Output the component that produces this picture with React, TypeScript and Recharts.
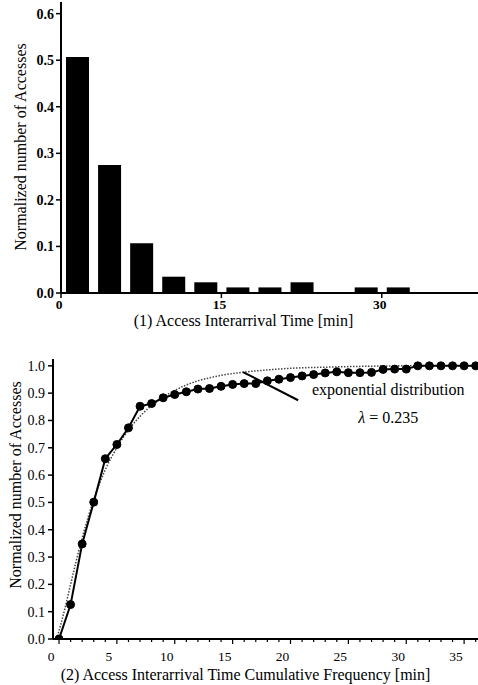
import React from 'react';
import { BarChart, Bar, LineChart, Line, XAxis, YAxis, Label, ReferenceLine, ReferenceDot } from 'recharts';

// (1) histogram of interarrival times, 3-minute bins
const binCenters = [1.5, 4.5, 7.5, 10.5, 13.5, 16.5, 19.5, 22.5, 25.5, 28.5, 31.5];
const binShares = [0.507, 0.275, 0.107, 0.035, 0.023, 0.012, 0.012, 0.023, 0, 0.012, 0.012];
const histXTicks = [0, 15, 30];
const histYTicks = [0, 0.1, 0.2, 0.3, 0.4, 0.5, 0.6];

// (2) cumulative frequency, one point per minute
const cumMinutes = [
  0, 1, 2, 3, 4, 5, 6, 7, 8, 9, 10, 11, 12, 13, 14, 15, 16, 17, 18,
  19, 20, 21, 22, 23, 24, 25, 26, 27, 28, 29, 30, 31, 32, 33, 34, 35, 36
];
const cumShares = [
  0.0, 0.126, 0.348, 0.501, 0.66, 0.712, 0.773, 0.852, 0.862, 0.883, 0.895, 0.905, 0.915,
  0.917, 0.925, 0.932, 0.935, 0.935, 0.945, 0.951, 0.957, 0.963, 0.968, 0.974, 0.978,
  0.975, 0.975, 0.976, 0.987, 0.988, 0.988, 1.0, 1.0, 1.0, 1.0, 1.0, 1.0
];

// fitted exponential (dotted)
const expMinutes = [-0.2, 0.5, 1, 2, 3, 4, 5, 6, 7, 8, 9, 10, 11, 12, 13, 14, 16, 18, 20, 23, 26, 30, 36.2];
const expShares = [0, 0.11, 0.2, 0.37, 0.51, 0.62, 0.7, 0.765, 0.815, 0.855, 0.885, 0.91, 0.93, 0.945, 0.956, 0.965, 0.977, 0.985, 0.991, 0.995, 0.998, 1.0, 1.0];

const cumXTicks = cumMinutes;
const cumYTicks = [0, 0.1, 0.2, 0.3, 0.4, 0.5, 0.6, 0.7, 0.8, 0.9, 1.0];

const histRows = binCenters.map((t, i) => ({ t, share: binShares[i] }));
const cumRows = cumMinutes.map((t, i) => ({ t, share: cumShares[i] }));
const expRows = expMinutes.map((t, i) => ({ t, share: expShares[i] }));

const FONT = '"Liberation Serif", "Times New Roman", serif';

const HistTick = ({ x, y, payload }: any) => (
  <g>
    <line x1={x} y1={y} x2={x} y2={y + 5} stroke="#000" strokeWidth={1.5} />
    <text x={x - 2} y={y + 16} textAnchor="middle" fontSize={13.5} fontWeight="bold" fontFamily={FONT} fill="#000">
      {payload.value}
    </text>
  </g>
);

const CumTick = ({ x, y, payload }: any) => {
  const major = payload.value % 5 === 0;
  return (
    <g>
      <line x1={x} y1={y} x2={x} y2={y + (major ? 5 : 3)} stroke="#000" strokeWidth={1.2} />
      {major && (
        <text x={x - 8} y={y + 22} textAnchor="middle" fontSize={13.5} fontFamily={FONT} fill="#000">
          {payload.value}
        </text>
      )}
    </g>
  );
};

const xTitle = (text: string, dx: number, dy: number) => (props: any) => {
  const vb = props.viewBox;
  return (
    <text x={vb.x + vb.width / 2 + dx} y={vb.y + dy} textAnchor="middle" fontSize={16} fontFamily={FONT} fill="#000">
      {text}
    </text>
  );
};

const yTitle = (text: string, cx: number, cy: number) => () => (
  <text
    x={cx}
    y={cy}
    transform={`rotate(-90, ${cx}, ${cy})`}
    textAnchor="middle"
    dominantBaseline="central"
    fontSize={16}
    fontFamily={FONT}
    fill="#000"
  >
    {text}
  </text>
);

const expNote = (props: any) => {
  const vb = props.viewBox;
  const cx = vb.x + vb.width / 2;
  const cy = vb.y + vb.height / 2;
  return (
    <g fontFamily={FONT} fontSize={16} fill="#000">
      <text x={cx} y={cy + 4} textAnchor="middle">exponential distribution</text>
      <text x={cx} y={cy + 32} textAnchor="middle">
        <tspan fontStyle="italic">λ</tspan> = 0.235
      </text>
    </g>
  );
};

const axisStroke = { stroke: '#000', strokeWidth: 2 };

export default function App() {
  return (
    <div style={{ position: 'absolute', left: 0, top: 0, width: 478, height: 685, background: '#fff', fontFamily: FONT }}>
      <BarChart width={478} height={330} data={histRows} margin={{ top: 2, right: 0, bottom: 0, left: 0 }}>
        <XAxis
          dataKey="t"
          type="number"
          domain={[0, 39]}
          ticks={histXTicks}
          interval={0}
          tick={<HistTick />}
          tickLine={false}
          tickSize={0}
          tickMargin={0}
          height={37}
          axisLine={axisStroke}
          allowDataOverflow
        >
          <Label content={xTitle('(1) Access Interarrival Time [min]', -26, 33)} />
        </XAxis>
        <YAxis
          type="number"
          domain={[0, 0.625]}
          ticks={histYTicks}
          interval={0}
          width={61}
          tickFormatter={(v: number) => v.toFixed(1)}
          tick={{ fontSize: 14, fontWeight: 'bold', fill: '#000', fontFamily: FONT }}
          tickLine={{ stroke: '#000', strokeWidth: 1.5 }}
          tickSize={5}
          tickMargin={2}
          axisLine={axisStroke}
          allowDataOverflow
        >
          <Label content={yTitle('Normalized number of Accesses', 20, 147)} />
        </YAxis>
        <Bar dataKey="share" fill="#000" barSize={23} isAnimationActive={false} />
      </BarChart>

      <LineChart width={478} height={355} margin={{ top: 29, right: 0, bottom: 0, left: 0 }}>
        <XAxis
          dataKey="t"
          type="number"
          domain={[-0.52, 36.2]}
          ticks={cumXTicks}
          interval={0}
          tick={<CumTick />}
          tickLine={false}
          tickSize={0}
          tickMargin={0}
          height={46}
          axisLine={axisStroke}
          allowDataOverflow
        >
          <Label content={xTitle('(2) Access Interarrival Time Cumulative Frequency [min]', -20, 41)} />
        </XAxis>
        <YAxis
          type="number"
          domain={[0, 1.025]}
          ticks={cumYTicks}
          interval={0}
          width={53}
          tickFormatter={(v: number) => v.toFixed(1)}
          tick={{ fontSize: 14, fill: '#000', fontFamily: FONT }}
          tickLine={{ stroke: '#000', strokeWidth: 1.5 }}
          tickSize={5}
          tickMargin={3}
          axisLine={axisStroke}
          allowDataOverflow
        >
          <Label content={yTitle('Normalized number of Accesses', 15, 155)} />
        </YAxis>
        <Line
          data={expRows}
          dataKey="share"
          type="monotone"
          stroke="#444"
          strokeWidth={1.5}
          strokeDasharray="1.5 1.5"
          dot={false}
          isAnimationActive={false}
        />
        <Line
          data={cumRows}
          dataKey="share"
          type="linear"
          stroke="#000"
          strokeWidth={2}
          dot={{ r: 4, fill: '#000', stroke: '#000', strokeWidth: 1 }}
          isAnimationActive={false}
        />
        <ReferenceLine
          segment={[{ x: 15.9, y: 0.977 }, { x: 20.66, y: 0.874 }]}
          stroke="#000"
          strokeWidth={2}
        />
        <ReferenceDot x={28.44} y={0.907} r={1} fill="none" stroke="none" label={expNote} />
      </LineChart>
    </div>
  );
}
